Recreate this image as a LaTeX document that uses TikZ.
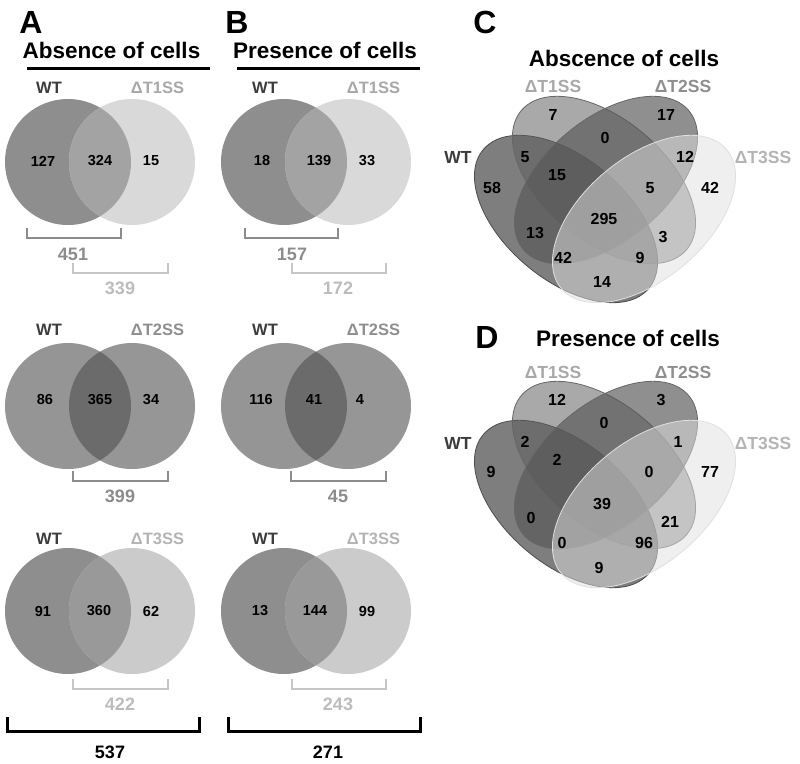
\documentclass[tikz,border=0pt]{standalone}
\usepackage{fontspec}
\setmainfont{Liberation Sans}
\definecolor{wtlab}{HTML}{3C3C3C}
\definecolor{t1lab}{HTML}{A8A8A8}
\definecolor{t2lab}{HTML}{8E8E8E}
\definecolor{t3lab}{HTML}{B4B4B4}
\definecolor{wtfill}{HTML}{8E8E8E}
\definecolor{t1fill}{HTML}{D9D9D9}
\definecolor{wtone}{HTML}{A3A3A3}
\definecolor{wtfillb}{HTML}{959595}
\definecolor{t2fill}{HTML}{969696}
\definecolor{wttwo}{HTML}{6B6B6B}
\definecolor{t3fill}{HTML}{CBCBCB}
\definecolor{wtthree}{HTML}{999999}
\definecolor{brkdark}{HTML}{8C8C8C}
\definecolor{brklight}{HTML}{C6C6C6}
\definecolor{txtlight}{HTML}{BCBCBC}
\definecolor{qwt}{HTML}{7E7E7E}
\definecolor{qone}{HTML}{606060}
\definecolor{qtwo}{HTML}{585858}
\definecolor{qthree}{HTML}{DFDFDF}
\newcommand\twoset[5]{%
  \fill[#3] (#1,#2) circle[radius=63pt];
  \fill[#4] ({#1+64},#2) circle[radius=63pt];
  \begin{scope}\clip (#1,#2) circle[radius=63pt];
  \fill[#5] ({#1+64},#2) circle[radius=63pt];\end{scope}}
\newcommand\fourset[1]{%
  \begin{scope}[shift={(0,#1)}]
  \path[fill=qwt, draw=black!70, line width=0.8pt, rotate around={-40:(566,219)}] (566,219) ellipse[x radius=108pt,y radius=61pt];
  \path[fill=qone, fill opacity=0.54, draw=black!60, line width=0.8pt, rotate around={-40:(604,180)}] (604,180) ellipse[x radius=108pt,y radius=61pt];
  \path[fill=qtwo, fill opacity=0.67, draw=black!60, line width=0.8pt, rotate around={40:(606,180)}] (606,180) ellipse[x radius=108pt,y radius=61pt];
  \path[fill=qthree, fill opacity=0.51, draw=black!12, line width=0.8pt, rotate around={40:(644,219)}] (644,219) ellipse[x radius=108pt,y radius=61pt];
  \end{scope}}
\begin{document}
\begin{tikzpicture}[x=1pt,y=-1pt,
  every node/.style={inner sep=0pt, outer sep=0pt},
  letter/.style={font=\fontsize{32}{34}\selectfont\bfseries},
  title/.style={font=\fontsize{22.5}{24}\selectfont\bfseries},
  setlab/.style={font=\fontsize{16.5}{18}\selectfont\bfseries},
  cnt/.style={font=\fontsize{14.5}{16}\selectfont\bfseries},
  tot/.style={font=\fontsize{18}{20}\selectfont\bfseries},
  qlab/.style={font=\fontsize{17.5}{19}\selectfont\bfseries},
  qcnt/.style={font=\fontsize{16}{18}\selectfont\bfseries},
  brk/.style={line width=2.6pt},
  bigbrk/.style={line width=3pt, draw=black},
  rule/.style={line width=3pt, draw=black}]
\useasboundingbox (0,0) rectangle (800,763);
% ---------- Panel A ----------
\node[letter] (la) at (31,22) {A};
\node[title] (ta) at (111.5,50) {Absence of cells};
\draw[rule] (27,68) -- (210,68);
\twoset{68}{162}{wtfill}{t1fill}{wtone}
\node[setlab,wtlab] (a1w) at (49,88) {WT};
\node[setlab,t1lab] (a1t) at (157.5,88) {ΔT1SS};
\node[cnt] (a1n1) at (43,161) {127};
\node[cnt] (a1n2) at (100,161) {324};
\node[cnt] (a1n3) at (151,161) {15};
\draw[brk,brkdark] (27,228) |- (121,238) -- (121,228);
\node[tot,brkdark] (a1s1) at (73,254) {451};
\draw[brk,brklight] (73,263) |- (168,273) -- (168,263);
\node[tot,txtlight] (a1s2) at (120,288) {339};
\twoset{68}{406}{wtfillb}{t2fill}{wttwo}
\node[setlab,wtlab] (a2w) at (49,330) {WT};
\node[setlab,t2lab] (a2t) at (157.5,330) {ΔT2SS};
\node[cnt] (a2n1) at (45,400) {86};
\node[cnt] (a2n2) at (100,400) {365};
\node[cnt] (a2n3) at (151,400) {34};
\draw[brk,brkdark] (73,471) |- (168,481) -- (168,471);
\node[tot,brkdark] (a2s) at (120,496) {399};
\twoset{68}{611}{wtfill}{t3fill}{wtthree}
\node[setlab,wtlab] (a3w) at (49,539) {WT};
\node[setlab,t3lab] (a3t) at (157.5,539) {ΔT3SS};
\node[cnt] (a3n1) at (43,611) {91};
\node[cnt] (a3n2) at (99,611) {360};
\node[cnt] (a3n3) at (151,611) {62};
\draw[brk,brklight] (73,679) |- (168,689) -- (168,679);
\node[tot,txtlight] (a3s) at (120,704) {422};
\draw[bigbrk] (7,717) |- (199,731) -- (199,717);
\node[tot] (atot) at (110,752) {537};
% ---------- Panel B ----------
\node[letter] (lb) at (237,22) {B};
\node[title] (tb) at (325,50) {Presence of cells};
\draw[rule] (237,68) -- (420,68);
\twoset{284}{162}{wtfill}{t1fill}{wtone}
\node[setlab,wtlab] (b1w) at (265,88) {WT};
\node[setlab,t1lab] (b1t) at (373.5,88) {ΔT1SS};
\node[cnt] (b1n1) at (262,161) {18};
\node[cnt] (b1n2) at (319,161) {139};
\node[cnt] (b1n3) at (367,161) {33};
\draw[brk,brkdark] (245,228) |- (338,238) -- (338,228);
\node[tot,brkdark] (b1s1) at (292,254) {157};
\draw[brk,brklight] (292,263) |- (386,273) -- (386,263);
\node[tot,txtlight] (b1s2) at (338,288) {172};
\twoset{284}{406}{wtfillb}{t2fill}{wttwo}
\node[setlab,wtlab] (b2w) at (265,330) {WT};
\node[setlab,t2lab] (b2t) at (373.5,330) {ΔT2SS};
\node[cnt] (b2n1) at (261,400) {116};
\node[cnt] (b2n2) at (314,400) {41};
\node[cnt] (b2n3) at (360,400) {4};
\draw[brk,brkdark] (291,471) |- (386,481) -- (386,471);
\node[tot,brkdark] (b2s) at (338,496) {45};
\twoset{284}{611}{wtfill}{t3fill}{wtthree}
\node[setlab,wtlab] (b3w) at (265,539) {WT};
\node[setlab,t3lab] (b3t) at (373.5,539) {ΔT3SS};
\node[cnt] (b3n1) at (260,611) {13};
\node[cnt] (b3n2) at (315,611) {144};
\node[cnt] (b3n3) at (367,611) {99};
\draw[brk,brklight] (292,679) |- (386,689) -- (386,679);
\node[tot,txtlight] (b3s) at (338,704) {243};
\draw[bigbrk] (228,717) |- (420,731) -- (420,717);
\node[tot] (btot) at (328,752) {271};
% ---------- Panel C ----------
\node[letter] (lc) at (485,22) {C};
\node[title] (tc) at (624,58) {Abscence of cells};
\fourset{0}
\node[qlab,t1lab] (c1) at (553,86) {ΔT1SS};
\node[qlab,t2lab] (c2) at (683,86) {ΔT2SS};
\node[qlab,wtlab] (cw) at (458,157) {WT};
\node[qlab,t3lab] (c3) at (763,157) {ΔT3SS};
\node[qcnt] (cn1) at (553,115) {7};
\node[qcnt] (cn2) at (666,115) {17};
\node[qcnt] (cn3) at (605,138) {0};
\node[qcnt] (cn4) at (525,157) {5};
\node[qcnt] (cn5) at (557,175) {15};
\node[qcnt] (cn6) at (685,157) {12};
\node[qcnt] (cn7) at (650,188) {5};
\node[qcnt] (cn8) at (710,188) {42};
\node[qcnt] (cn9) at (492,188) {58};
\node[qcnt] (cn10) at (604,219) {295};
\node[qcnt] (cn11) at (535,233) {13};
\node[qcnt] (cn12) at (663,237) {3};
\node[qcnt] (cn13) at (563,258) {42};
\node[qcnt] (cn14) at (640,258) {9};
\node[qcnt] (cn15) at (602,282) {14};
% ---------- Panel D ----------
\node[letter] (ld) at (487,337) {D};
\node[title] (td) at (628,338) {Presence of cells};
\fourset{285}
\node[qlab,t1lab] (d1) at (553,372) {ΔT1SS};
\node[qlab,t2lab] (d2) at (683,372) {ΔT2SS};
\node[qlab,wtlab] (dw) at (458,443) {WT};
\node[qlab,t3lab] (d3) at (763,443) {ΔT3SS};
\node[qcnt] (dn1) at (557,400) {12};
\node[qcnt] (dn2) at (661,400) {3};
\node[qcnt] (dn3) at (604,423) {0};
\node[qcnt] (dn4) at (525,442) {2};
\node[qcnt] (dn5) at (557,460) {2};
\node[qcnt] (dn6) at (678,442) {1};
\node[qcnt] (dn7) at (649,472) {0};
\node[qcnt] (dn8) at (710,472) {77};
\node[qcnt] (dn9) at (491,472) {9};
\node[qcnt] (dn10) at (602,504) {39};
\node[qcnt] (dn11) at (531,518) {0};
\node[qcnt] (dn12) at (670,522) {21};
\node[qcnt] (dn13) at (562,543) {0};
\node[qcnt] (dn14) at (644,543) {96};
\node[qcnt] (dn15) at (599,568) {9};
\end{tikzpicture}
\end{document}
